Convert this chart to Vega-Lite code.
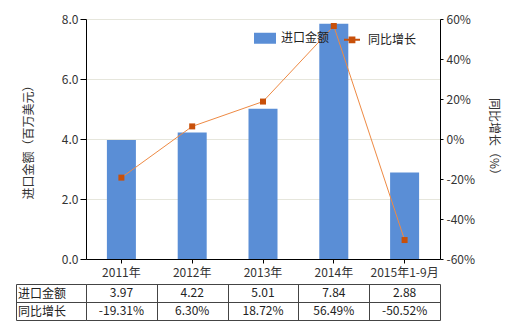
{
  "$schema": "https://vega.github.io/schema/vega-lite/v6.json",
  "background": "white",
  "padding": {"left": 15, "top": 13, "right": 5, "bottom": 5},
  "spacing": 0,
  "config": {
    "view": {"stroke": null},
    "font": "Noto Sans CJK SC",
    "locale": {"number": {"decimal": ".", "thousands": ",", "grouping": [3], "currency": ["$", ""], "minus": "-"}},
    "axis": {"labelFont": "Noto Sans CJK SC", "labelFontSize": 12, "labelColor": "#333333", "titleFont": "Noto Sans CJK SC", "titleFontSize": 12, "titleFontWeight": "normal", "titleColor": "#333333", "labelOverlap": false},
    "legend": {"labelFont": "Noto Sans CJK SC"},
    "text": {"font": "Noto Sans CJK SC"}
  },
  "datasets": {
    "d": [
      {"period": "2011年", "amount": 3.97, "growth": -0.1931},
      {"period": "2012年", "amount": 4.22, "growth": 0.063},
      {"period": "2013年", "amount": 5.01, "growth": 0.1872},
      {"period": "2014年", "amount": 7.84, "growth": 0.5649},
      {"period": "2015年1-9月", "amount": 2.88, "growth": -0.5052}
    ]
  },
  "vconcat": [
    {
      "width": 354,
      "height": 240,
      "data": {"name": "d"},
      "layer": [
        {
          "mark": {"type": "bar", "size": 29},
          "encoding": {
            "x": {"field": "period", "type": "nominal", "sort": null, "scale": {"paddingInner": 0, "paddingOuter": 0},
              "axis": {"title": null, "labelAngle": 0, "domainColor": "#000000", "tickColor": "#000000", "tickSize": 4, "labelPadding": 4, "grid": false}},
            "y": {"field": "amount", "type": "quantitative", "scale": {"domain": [0, 8]},
              "axis": {"orient": "left", "values": [0, 2, 4, 6, 8], "format": ".1f", "grid": true, "gridColor": "#e6e6dc", "domainColor": "#000000", "tickColor": "#000000", "tickSize": 6, "labelPadding": 2, "labelOverlap": false, "title": "进口金额（百万美元）", "titlePadding": 26}},
            "color": {"datum": "进口金额", "type": "nominal",
              "scale": {"domain": ["进口金额", "同比增长"], "range": ["#5a8ed6", "#c8500a"]},
              "legend": {"orient": "none", "legendX": 167, "legendY": 7, "direction": "horizontal", "title": null, "symbolSize": 484, "labelFontSize": 12, "labelColor": "#222222", "columnPadding": 10, "labelOffset": 4, "padding": 0,
                "encode": {"symbols": {"update": {
                  "shape": {"signal": "datum.value === '同比增长' ? 'M-1,0H1M-0.3,-0.3H0.3V0.3H-0.3Z' : 'M-1,-0.5H1V0.5H-1Z'"},
                  "size": {"signal": "datum.value === '同比增长' ? 256 : 484"},
                  "fill": {"signal": "datum.value === '同比增长' ? '#c8500a' : '#5a8ed6'"},
                  "stroke": {"signal": "datum.value === '同比增长' ? '#c8500a' : 'transparent'"},
                  "strokeWidth": {"value": 2},
                  "opacity": {"value": 1}
                }}}}}
          }
        },
        {
          "layer": [
            {
              "mark": {"type": "line", "color": "#ee8a44", "strokeWidth": 1},
              "encoding": {
                "x": {"field": "period", "type": "nominal", "sort": null},
                "y": {"field": "growth", "type": "quantitative", "scale": {"domain": [-0.6, 0.6]},
                  "axis": {"orient": "right", "values": [-0.6, -0.4, -0.2, 0, 0.2, 0.4, 0.6], "format": ".0%", "grid": false, "domainColor": "#000000", "tickColor": "#000000", "tickSize": 3, "labelPadding": 3, "labelOverlap": false, "labelBound": false, "title": "同比增长（%）", "titlePadding": 12}}
              }
            },
            {
              "mark": {"type": "point", "shape": "square", "filled": true, "size": 36, "opacity": 1},
              "encoding": {
                "x": {"field": "period", "type": "nominal", "sort": null},
                "y": {"field": "growth", "type": "quantitative", "axis": {"orient": "right", "values": [-0.6, -0.4, -0.2, 0, 0.2, 0.4, 0.6], "format": ".0%", "labelOverlap": false}},
                "color": {"datum": "同比增长", "type": "nominal"}
              }
            }
          ]
        }
      ],
      "resolve": {"scale": {"y": "independent"}}
    },
    {
      "width": 354,
      "height": 36,
      "data": {"name": "d"},
      "layer": [
        {
          "layer": [
            {
              "mark": {"type": "text", "fontSize": 12, "color": "#222222"},
              "encoding": {
                "x": {"field": "period", "type": "nominal", "sort": null, "scale": {"paddingInner": 0, "paddingOuter": 0},
                  "axis": {"title": null, "labels": false, "ticks": false, "domain": false, "grid": true, "tickBand": "extent", "gridColor": "#444444", "gridOpacity": 1}},
                "y": {"datum": "进口金额", "type": "nominal", "scale": {"domain": ["进口金额", "同比增长"], "paddingInner": 0, "paddingOuter": 0},
                  "axis": {"orient": "left", "title": null, "domain": true, "domainColor": "#444444", "ticks": true, "tickSize": 70, "tickBand": "extent", "tickColor": "#444444", "grid": true, "gridColor": "#444444", "gridOpacity": 1, "labelAlign": "left", "labelPadding": -1.5, "labelColor": "#222222", "labelFontSize": 12}},
                "text": {"field": "amount", "type": "quantitative", "format": ".2f"}
              }
            },
            {
              "mark": {"type": "text", "fontSize": 12, "color": "#222222"},
              "encoding": {
                "x": {"field": "period", "type": "nominal", "sort": null},
                "y": {"datum": "同比增长", "type": "nominal"},
                "text": {"field": "growth", "type": "quantitative", "format": ".2%"}
              }
            }
          ]
        },
        {
          "mark": {"type": "text", "opacity": 0},
          "encoding": {
            "y": {"datum": "进口金额", "type": "nominal", "scale": {"domain": ["进口金额", "同比增长"], "paddingInner": 0, "paddingOuter": 0},
              "axis": {"orient": "left", "offset": 70, "title": null, "domain": true, "domainColor": "#444444", "labels": false, "ticks": false, "grid": false}},
            "text": {"value": ""}
          }
        }
      ],
      "resolve": {"scale": {"y": "independent"}, "axis": {"y": "independent"}}
    }
  ]
}
